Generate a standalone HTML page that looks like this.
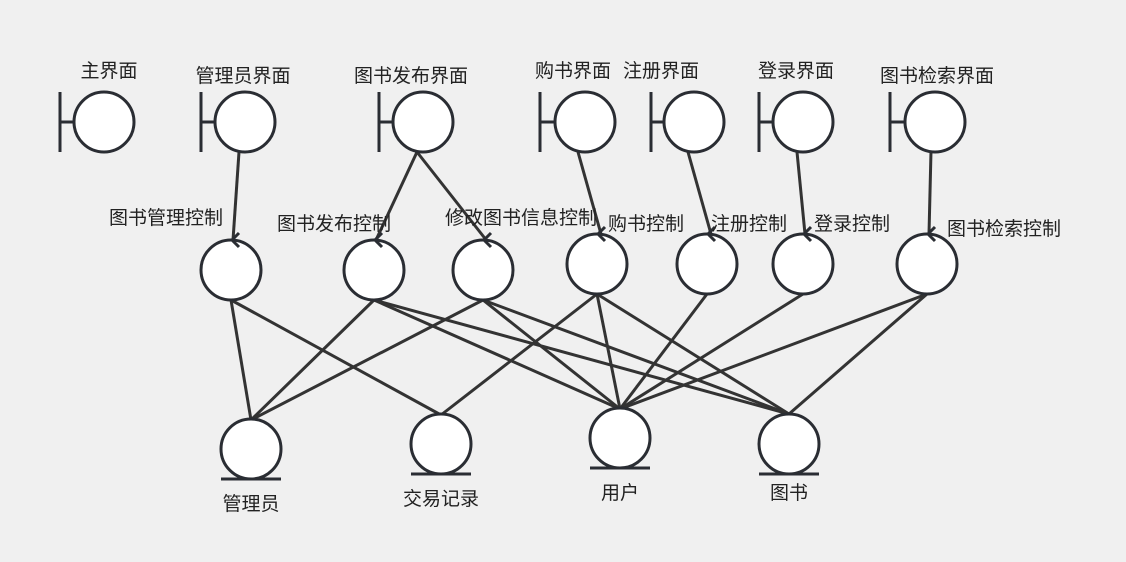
<!DOCTYPE html>
<html><head><meta charset="utf-8"><style>
html,body{margin:0;padding:0;background:#f0f0f0;}
svg{display:block}
text{font-family:"Liberation Sans","Noto Sans CJK SC",sans-serif;font-size:19px;fill:#222;text-anchor:middle}
</style></head><body>
<svg width="1126" height="562" viewBox="0 0 1126 562" xmlns="http://www.w3.org/2000/svg">
<g stroke="#333" stroke-width="3" fill="none">
<line x1="239" y1="152" x2="233" y2="240"/>
<line x1="417" y1="152" x2="376" y2="240"/>
<line x1="417" y1="152" x2="487" y2="241"/>
<line x1="578" y1="152" x2="601" y2="234"/>
<line x1="688" y1="152" x2="711" y2="234"/>
<line x1="797" y1="152" x2="805" y2="234"/>
<line x1="931" y1="151" x2="929" y2="234"/>
<line x1="231" y1="300" x2="251" y2="420"/>
<line x1="231" y1="300" x2="441" y2="415"/>
<line x1="374" y1="300" x2="251" y2="420"/>
<line x1="374" y1="300" x2="620" y2="409"/>
<line x1="374" y1="300" x2="789" y2="414"/>
<line x1="483" y1="300" x2="251" y2="420"/>
<line x1="483" y1="300" x2="620" y2="409"/>
<line x1="483" y1="300" x2="789" y2="414"/>
<line x1="597" y1="294" x2="441" y2="415"/>
<line x1="597" y1="294" x2="620" y2="409"/>
<line x1="597" y1="294" x2="789" y2="414"/>
<line x1="707" y1="294" x2="620" y2="409"/>
<line x1="803" y1="294" x2="620" y2="409"/>
<line x1="927" y1="294" x2="620" y2="409"/>
<line x1="927" y1="294" x2="789" y2="414"/>
</g>
<g stroke="#2a2d33" stroke-width="3" fill="#fff">
<g><circle cx="104" cy="122" r="30"/><line x1="60" y1="92" x2="60" y2="152"/><line x1="60" y1="122" x2="74" y2="122"/></g>
<g><circle cx="245" cy="122" r="30"/><line x1="201" y1="92" x2="201" y2="152"/><line x1="201" y1="122" x2="215" y2="122"/></g>
<g><circle cx="423" cy="122" r="30"/><line x1="379" y1="92" x2="379" y2="152"/><line x1="379" y1="122" x2="393" y2="122"/></g>
<g><circle cx="585" cy="122" r="30"/><line x1="540" y1="92" x2="540" y2="152"/><line x1="540" y1="122" x2="555" y2="122"/></g>
<g><circle cx="694" cy="122" r="30"/><line x1="651" y1="92" x2="651" y2="152"/><line x1="651" y1="122" x2="664" y2="122"/></g>
<g><circle cx="803" cy="122" r="30"/><line x1="759" y1="92" x2="759" y2="152"/><line x1="759" y1="122" x2="773" y2="122"/></g>
<g><circle cx="935" cy="122" r="30"/><line x1="890" y1="92" x2="890" y2="152"/><line x1="890" y1="122" x2="905" y2="122"/></g>
<circle cx="231" cy="270" r="30"/>
<circle cx="374" cy="270" r="30"/>
<circle cx="483" cy="270" r="30"/>
<circle cx="597" cy="264" r="30"/>
<circle cx="707" cy="264" r="30"/>
<circle cx="803" cy="264" r="30"/>
<circle cx="927" cy="264" r="30"/>
<circle cx="251" cy="449" r="30"/><line x1="221" y1="479" x2="281" y2="479"/>
<circle cx="441" cy="444" r="30"/><line x1="411" y1="474" x2="471" y2="474"/>
<circle cx="620" cy="438" r="30"/><line x1="590" y1="468" x2="650" y2="468"/>
<circle cx="789" cy="444" r="30"/><line x1="759" y1="474" x2="819" y2="474"/>
</g>
<g stroke="#2a2d33" stroke-width="3" fill="none">
<polyline points="239,233 232,240 239,247"/>
<polyline points="382,233 375,240 382,247"/>
<polyline points="491,233 484,240 491,247"/>
<polyline points="605,227 598,234 605,241"/>
<polyline points="715,227 708,234 715,241"/>
<polyline points="811,227 804,234 811,241"/>
<polyline points="935,227 928,234 935,241"/>
</g>
<text x="109" y="77">主界面</text>
<text x="243" y="82">管理员界面</text>
<text x="411" y="82">图书发布界面</text>
<text x="573" y="77">购书界面</text>
<text x="661" y="77">注册界面</text>
<text x="796" y="77">登录界面</text>
<text x="937" y="82">图书检索界面</text>
<text x="166" y="224">图书管理控制</text>
<text x="334" y="230">图书发布控制</text>
<text x="521" y="224">修改图书信息控制</text>
<text x="646" y="230">购书控制</text>
<text x="749" y="230">注册控制</text>
<text x="852" y="230">登录控制</text>
<text x="1004" y="235">图书检索控制</text>
<text x="251" y="510">管理员</text>
<text x="441" y="505">交易记录</text>
<text x="620" y="499">用户</text>
<text x="789" y="499">图书</text>
</svg>
</body></html>
